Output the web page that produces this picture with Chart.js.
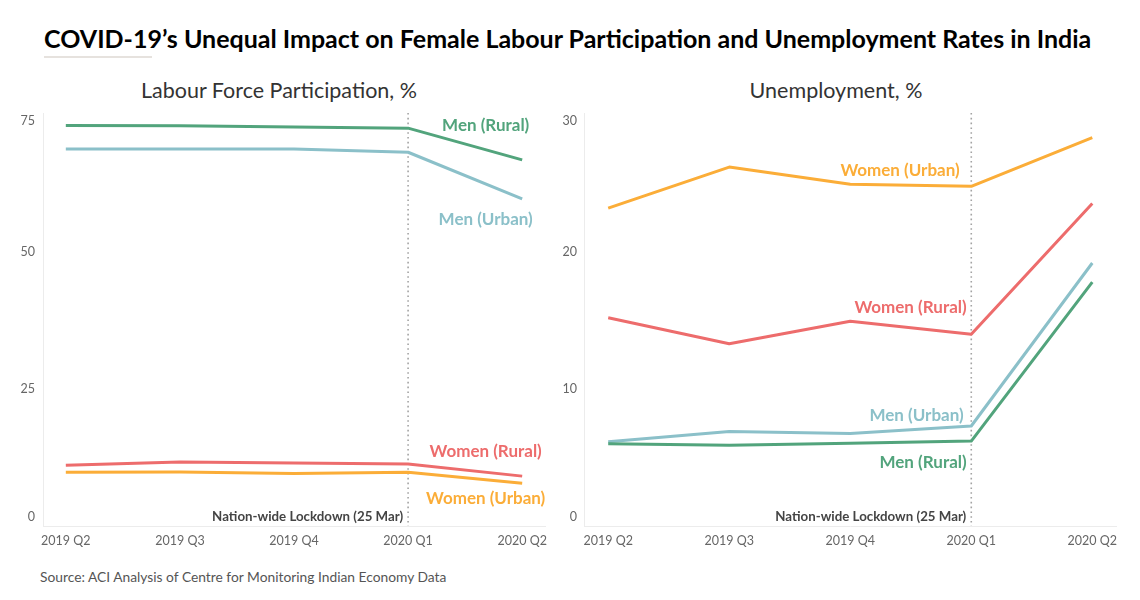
<!DOCTYPE html>
<html>
<head>
<meta charset="utf-8">
<script src="https://cdn.jsdelivr.net/npm/chart.js@4"></script>
<style>
  body { margin: 0; width: 1140px; height: 600px; background: #fff; position: relative; overflow: hidden; font-family: Lato, sans-serif; }
  #title { position: absolute; left: 44px; top: 23px; font-size: 25px; font-weight: bold; color: #000; white-space: nowrap; }
  #rule { position: absolute; left: 44px; top: 56px; width: 108px; height: 2px; background: #e6e2de; }
  .sub { position: absolute; top: 77px; font-size: 21.5px; color: #333; white-space: nowrap; transform: translateX(-50%); }
  #source { position: absolute; left: 40px; top: 568px; font-size: 13.8px; color: #555; white-space: nowrap; }
  #leftBox { position: absolute; left: 0; top: 70px; width: 560px; height: 490px; }
  #rightBox { position: absolute; left: 560px; top: 70px; width: 580px; height: 490px; }
</style>
</head>
<body>
<div id="title">COVID-19’s Unequal Impact on Female Labour Participation and Unemployment Rates in India</div>
<div id="rule"></div>
<div class="sub" style="left:279px">Labour Force Participation, %</div>
<div class="sub" style="left:836px">Unemployment, %</div>
<div id="leftBox"><canvas id="lfpr"></canvas></div>
<div id="rightBox"><canvas id="unemp"></canvas></div>
<div id="source">Source: ACI Analysis of Centre for Monitoring Indian Economy Data</div>
<script>
const quarters = ['2019 Q2', '2019 Q3', '2019 Q4', '2020 Q1', '2020 Q2'];
const seriesNames = ['Men (Rural)', 'Men (Urban)', 'Women (Rural)', 'Women (Urban)'];

// labour force participation, %
const lfprMenRural   = [73.1, 73.05, 72.8, 72.6, 66.8];
const lfprMenUrban   = [68.8, 68.8, 68.8, 68.2, 59.7];
const lfprWomenRural = [11.1, 11.7, 11.5, 11.3, 9.1];
const lfprWomenUrban = [9.8, 9.85, 9.6, 9.8, 7.8];

// unemployment, %
const unempMenRural   = [6.0, 5.9, 6.05, 6.2, 17.8];
const unempMenUrban   = [6.15, 6.9, 6.75, 7.3, 19.2];
const unempWomenRural = [15.2, 13.3, 14.95, 14.0, 23.55];
const unempWomenUrban = [23.2, 26.2, 24.95, 24.8, 28.35];

const lfprTicks = [0, 25, 50, 75];
const unempTicks = [0, 10, 20, 30];
const lockdownQuarter = '2020 Q1';
const lockdownText = 'Nation-wide Lockdown (25 Mar)';

const COLORS = ['#52a47c', '#8bc0c9', '#ed6c6c', '#fbad38'];
const FONT = 'Lato, sans-serif';

function makeDatasets(series) {
  return series.map((vals, i) => ({
    label: seriesNames[i],
    data: vals.map((v, k) => ({ x: k, y: v })),
    borderColor: COLORS[i],
    backgroundColor: COLORS[i],
    borderWidth: 3,
    pointRadius: 0,
    borderJoinStyle: 'round',
    tension: 0,
  }));
}

// dotted lockdown line, its caption, the series names,
// and y tick labels kept inside the plot like tableau does
const marksPlugin = {
  id: 'marks',
  beforeDatasetsDraw(chart, args, opts) {
    const { ctx, chartArea, scales: { x } } = chart;
    const px = x.getPixelForValue(quarters.indexOf(lockdownQuarter));
    ctx.save();
    ctx.strokeStyle = '#a3a3a3';
    ctx.lineWidth = 1.6;
    ctx.setLineDash([1.6, 3.2]);
    ctx.beginPath();
    ctx.moveTo(px, chartArea.top);
    ctx.lineTo(px, chartArea.bottom);
    ctx.stroke();
    ctx.restore();
  },
  afterDatasetsDraw(chart, args, opts) {
    const { ctx, chartArea, scales: { x, y } } = chart;
    const px = x.getPixelForValue(quarters.indexOf(lockdownQuarter));
    ctx.save();

    ctx.font = '12.5px ' + FONT;
    ctx.fillStyle = '#666';
    ctx.textAlign = 'right';
    ctx.textBaseline = 'middle';
    y.ticks.forEach(t => {
      let py = y.getPixelForValue(t.value);
      py = Math.min(Math.max(py, chartArea.top + 8), chartArea.bottom - 9);
      ctx.fillText(String(t.value), y.right - opts.tickPad, py);
    });

    ctx.font = 'bold 13.3px ' + FONT;
    ctx.fillStyle = '#444';
    ctx.fillText(lockdownText, px - 5, chartArea.bottom - 9);

    ctx.font = 'bold 17px ' + FONT;
    opts.labels.forEach((l, i) => {
      ctx.fillStyle = COLORS[i];
      ctx.textAlign = l.align;
      ctx.fillText(seriesNames[i], x.getPixelForValue(l.x), y.getPixelForValue(l.y));
    });
    ctx.restore();
  }
};

function makeChart(id, series, yMax, yTicks, yWidth, padRight, tickPad, labels) {
  return new Chart(document.getElementById(id), {
    type: 'line',
    data: { datasets: makeDatasets(series) },
    plugins: [marksPlugin],
    options: {
      responsive: true,
      maintainAspectRatio: false,
      animation: false,
      layout: { padding: { top: 43, right: padRight, left: 0, bottom: 0 } },
      plugins: {
        legend: { display: false },
        title: { display: false },
        tooltip: { enabled: false },
        marks: { labels: labels, tickPad: tickPad },
      },
      scales: {
        x: {
          type: 'linear',
          min: -0.2,
          max: 4.2,
          grid: { display: false, drawTicks: false },
          border: { display: true, color: '#ececec', width: 1 },
          afterBuildTicks: s => { s.ticks = quarters.map((q, k) => ({ value: k })); },
          afterFit: s => { s.height = 34; },
          ticks: {
            callback: v => quarters[v],
            color: '#666',
            font: { family: FONT, size: 12.5 },
            padding: 7,
            maxRotation: 0,
            autoSkip: false,
          },
        },
        y: {
          min: 0,
          max: yMax,
          grid: { display: false, drawTicks: false },
          border: { display: true, color: '#ececec', width: 1 },
          afterBuildTicks: s => { s.ticks = yTicks.map(v => ({ value: v })); },
          afterFit: s => { s.width = yWidth; },
          ticks: { display: false },
        },
      },
    },
  });
}

makeChart('lfpr', [lfprMenRural, lfprMenUrban, lfprWomenRural, lfprWomenUrban], 75.36, lfprTicks, 43, 15, 8, [
  { x: 3.68, y: 73.0, align: 'center' },
  { x: 3.68, y: 56.0, align: 'center' },
  { x: 3.68, y: 13.56, align: 'center' },
  { x: 3.68, y: 5.05, align: 'center' },
]);

makeChart('unemp', [unempMenRural, unempMenUrban, unempWomenRural, unempWomenUrban], 30.15, unempTicks, 24, 23.5, 7, [
  { x: 2.962, y: 4.67, align: 'right' },
  { x: 2.937, y: 8.08, align: 'right' },
  { x: 2.962, y: 15.93, align: 'right' },
  { x: 2.904, y: 25.93, align: 'right' },
]);
</script>
</body>
</html>
